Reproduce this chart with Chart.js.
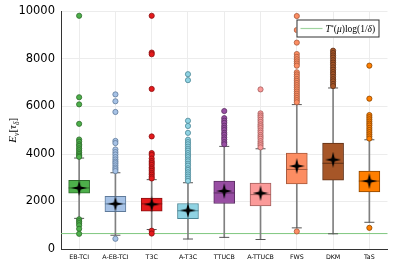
<!DOCTYPE html>
<html>
<head>
<meta charset="utf-8">
<script src="https://cdn.jsdelivr.net/npm/chart.js@4.4.1/dist/chart.umd.min.js"></script>
<style>
  html, body { margin: 0; padding: 0; background: #fff; }
  #chart { display: block; }
</style>
</head>
<body>
<canvas id="chart" width="399" height="266"></canvas>
<script>
// Algorithms (categories)
const labels = ['EB-TCI', 'A-EB-TCI', 'T3C', 'A-T3C', 'TTUCB', 'A-TTUCB', 'FWS', 'DKM', 'TaS'];

// Box statistics
const q1 = [2346, 1570, 1597, 1278, 1917, 1819, 2736, 2903, 2403];
const q3 = [2888, 2221, 2139, 1917, 2861, 2778, 4042, 4459, 3278];
const medians = [2570, 1900, 1900, 1610, 2360, 2290, 3350, 3610, 2860];
const means = [2570, 1900, 1880, 1625, 2440, 2350, 3490, 3760, 2860];
const whiskerLow = [1290, 580, 820, 420, 490, 400, 890, 640, 1125];
const whiskerHigh = [3830, 3210, 2920, 2790, 4320, 4220, 6080, 6780, 4600];

// Outliers for each algorithm
const ebTciOut = [9820, 6390, 6090, 5270, 4610, 4520, 4410, 4340, 4240, 4160, 4070, 4000, 3930, 3880, 1250, 1170, 1090, 1000, 850, 640];
const aEbTciOut = [6510, 6220, 5770, 4550, 4460, 4190, 4080, 3980, 3870, 3770, 3680, 3610, 3520, 3430, 3360, 3280, 430];
const t3cOut = [9820, 8270, 8200, 6740, 4740, 4040, 3960, 3810, 3700, 3620, 3540, 3440, 3370, 3290, 3200, 3130, 3040, 2970, 770, 650];
const aT3cOut = [7360, 7110, 5400, 5180, 4890, 4600, 4500, 4410, 4310, 4220, 4140, 4040, 3950, 3870, 3770, 3690, 3590, 3510, 3400, 3330, 3230, 3140, 3050, 2960, 2870];
const ttucbOut = [5810, 5510, 5400, 5310, 5190, 5100, 5010, 4890, 4810, 4700, 4610, 4500, 4410];
const aTtucbOut = [6720, 5710, 5620, 5540, 5440, 5350, 5250, 5170, 5090, 4990, 4900, 4800, 4720, 4640, 4540, 4450, 4370, 4280];
const fwsOut = [9810, 9220, 8690, 8210, 8090, 7990, 7900, 7810, 7720, 7440, 7350, 7260, 7160, 7080, 6990, 6900, 6810, 6720, 6630, 6540, 6450, 6360, 6270, 6180, 740];
const dkmOut = [8350, 8250, 8150, 8060, 7950, 7850, 7760, 7650, 7550, 7450, 7360, 7250, 7150, 7060, 6950, 6860];
const tasOut = [7720, 6330, 5640, 5550, 5460, 5370, 5280, 5200, 5100, 5010, 4920, 4830, 4740, 4650, 890];
const outliers = [ebTciOut, aEbTciOut, t3cOut, aT3cOut, ttucbOut, aTtucbOut, fwsOut, dkmOut, tasOut];

// Reference level T*(mu) log(1/delta)
const refLevel = 650;

// Y axis ticks
const yTicks = [0, 2000, 4000, 6000, 8000, 10000];

const fills = ['#4daf4a', '#a6c2e6', '#e41a1c', '#8fd3e3', '#984ea3', '#fb9a99', '#fc8d62', '#a65628', '#ff7f00'];
const edges = ['#2d6b2b', '#5f7a99', '#8b1011', '#4c8796', '#5b2f62', '#a25f5e', '#a85a3d', '#5f3016', '#8c4600'];

function makeStar(size) {
    const c = document.createElement('canvas');
    c.width = size;
    c.height = size;
    const ctx = c.getContext('2d');
    const r = size / 2;
    const ri = size * 0.14;
    ctx.beginPath();
    for (let i = 0; i < 8; i++) {
        const a = -Math.PI / 2 + i * Math.PI / 4;
        const rad = i % 2 === 0 ? r : ri;
        const px = r + Math.cos(a) * rad;
        const py = r + Math.sin(a) * rad;
        if (i === 0) ctx.moveTo(px, py); else ctx.lineTo(px, py);
    }
    ctx.closePath();
    ctx.fillStyle = '#000';
    ctx.fill();
    return c;
}
const star = makeStar(16);

const datasets = [];

// reference line over the full width (hidden linear x axis, clipped to the plot)
datasets.push({
    type: 'line',
    xAxisID: 'x2',
    data: [{ x: -1, y: refLevel }, { x: 2, y: refLevel }],
    borderColor: '#7fc77f',
    borderWidth: 1,
    pointRadius: 0,
    order: 10
});

// whiskers
datasets.push({
    type: 'bar',
    data: labels.map((l, i) => [whiskerLow[i], whiskerHigh[i]]),
    backgroundColor: '#808080',
    barThickness: 1,
    grouped: false,
    order: 9
});

// boxes
datasets.push({
    type: 'bar',
    data: labels.map((l, i) => [q1[i], q3[i]]),
    backgroundColor: fills,
    borderColor: edges,
    borderWidth: 1,
    borderSkipped: false,
    barThickness: 21,
    grouped: false,
    order: 8
});

// whisker caps
datasets.push({
    type: 'line',
    data: labels.flatMap((l, i) => [{ x: l, y: whiskerLow[i] }, { x: l, y: whiskerHigh[i] }]),
    showLine: false,
    pointStyle: 'line',
    pointRadius: 5,
    borderColor: '#555',
    borderWidth: 1,
    order: 7
});

// medians
datasets.push({
    type: 'line',
    data: labels.map((l, i) => ({ x: l, y: medians[i] })),
    showLine: false,
    pointStyle: 'line',
    pointRadius: 10.5,
    borderColor: edges,
    borderWidth: 1,
    order: 6
});

// outliers
outliers.forEach((vals, i) => {
    datasets.push({
        type: 'line',
        data: vals.map(v => ({ x: labels[i], y: v })),
        showLine: false,
        pointRadius: 2.6,
        pointBackgroundColor: fills[i],
        pointBorderColor: edges[i],
        pointBorderWidth: 0.8,
        order: 5
    });
});

// means
datasets.push({
    type: 'line',
    data: labels.map((l, i) => ({ x: l, y: means[i] })),
    showLine: false,
    pointStyle: star,
    order: 1
});

const overlay = {
    id: 'overlay',
    afterDatasetsDraw(chart) {
        const ctx = chart.ctx;
        const area = chart.chartArea;

        // legend box
        const bx = area.right - 91, by = area.top + 8, bw = 83, bh = 18;
        ctx.save();
        ctx.fillStyle = '#fff';
        ctx.fillRect(bx, by, bw, bh);
        ctx.strokeStyle = '#333';
        ctx.lineWidth = 1;
        ctx.strokeRect(bx + 0.5, by + 0.5, bw - 1, bh - 1);
        ctx.strokeStyle = '#9fd49f';
        ctx.lineWidth = 1.2;
        ctx.beginPath();
        ctx.moveTo(bx + 4, by + bh / 2);
        ctx.lineTo(bx + 26, by + bh / 2);
        ctx.stroke();
        ctx.fillStyle = '#000';
        ctx.textBaseline = 'alphabetic';
        let tx = bx + 29;
        const ty = by + bh / 2 + 3.5;
        const sz = 9.5;
        ctx.font = 'italic ' + sz + 'px "Liberation Serif"';
        ctx.fillText('T', tx, ty);
        tx += ctx.measureText('T').width;
        ctx.font = '6px "Liberation Serif"';
        ctx.fillText('*', tx, ty - 3.5);
        tx += ctx.measureText('*').width;
        ctx.font = sz + 'px "Liberation Serif"';
        ctx.fillText('(', tx, ty);
        tx += ctx.measureText('(').width;
        ctx.font = 'italic ' + sz + 'px "Liberation Serif"';
        ctx.fillText('\u03bc', tx, ty);
        tx += ctx.measureText('\u03bc').width;
        ctx.font = sz + 'px "Liberation Serif"';
        ctx.fillText(')log(1/', tx, ty);
        tx += ctx.measureText(')log(1/').width;
        ctx.font = 'italic ' + sz + 'px "Liberation Serif"';
        ctx.fillText('\u03b4', tx, ty);
        tx += ctx.measureText('\u03b4').width;
        ctx.font = sz + 'px "Liberation Serif"';
        ctx.fillText(')', tx, ty);
        ctx.restore();

        // y axis title E_nu[tau_delta]
        const parts = [
            ['E', 'italic 11px "Liberation Serif"', 0],
            ['\u03bd', 'italic 7.5px "Liberation Serif"', 2.5],
            ['[', '11px "Liberation Serif"', 0],
            ['\u03c4', 'italic 11px "Liberation Serif"', 0],
            ['\u03b4', 'italic 7.5px "Liberation Serif"', 2.5],
            [']', '11px "Liberation Serif"', 0]
        ];
        ctx.save();
        let total = 0;
        parts.forEach(p => { ctx.font = p[1]; total += ctx.measureText(p[0]).width; });
        ctx.translate(16, (area.top + area.bottom) / 2);
        ctx.rotate(-Math.PI / 2);
        ctx.fillStyle = '#000';
        let px = -total / 2;
        parts.forEach(p => {
            ctx.font = p[1];
            ctx.fillText(p[0], px, p[2]);
            px += ctx.measureText(p[0]).width;
        });
        ctx.restore();
    }
};

new Chart(document.getElementById('chart').getContext('2d'), {
    type: 'bar',
    data: { labels: labels, datasets: datasets },
    options: {
        responsive: false,
        animation: false,
        layout: { padding: { top: 6, right: 10, left: 0, bottom: 0 } },
        plugins: {
            legend: { display: false },
            tooltip: { enabled: false }
        },
        scales: {
            x: {
                type: 'category',
                offset: true,
                grid: { offset: false, color: '#ececec', drawTicks: false },
                border: { color: '#333', width: 1 },
                ticks: {
                    color: '#000',
                    padding: 5,
                    maxRotation: 0,
                    autoSkip: false,
                    font: { family: 'DejaVu Sans', size: 6.3 }
                },
                afterFit(scale) {
                    scale.height = 17;
                    scale.paddingLeft = 0;
                    scale.paddingRight = 0;
                }
            },
            x2: {
                type: 'linear',
                display: false,
                offset: false,
                min: 0,
                max: 1
            },
            y: {
                min: 0,
                max: 10000,
                afterBuildTicks(scale) { scale.ticks = yTicks.map(v => ({ value: v })); },
                grid: { color: '#ececec', drawTicks: false },
                border: { color: '#333', width: 1 },
                ticks: {
                    color: '#000',
                    padding: 6,
                    font: { family: 'DejaVu Sans', size: 11.5 },
                    callback: v => String(v)
                },
                afterFit(scale) {
                    scale.width = 61;
                    scale.paddingTop = 0;
                    scale.paddingBottom = 0;
                }
            }
        }
    },
    plugins: [overlay]
});
</script>
</body>
</html>
